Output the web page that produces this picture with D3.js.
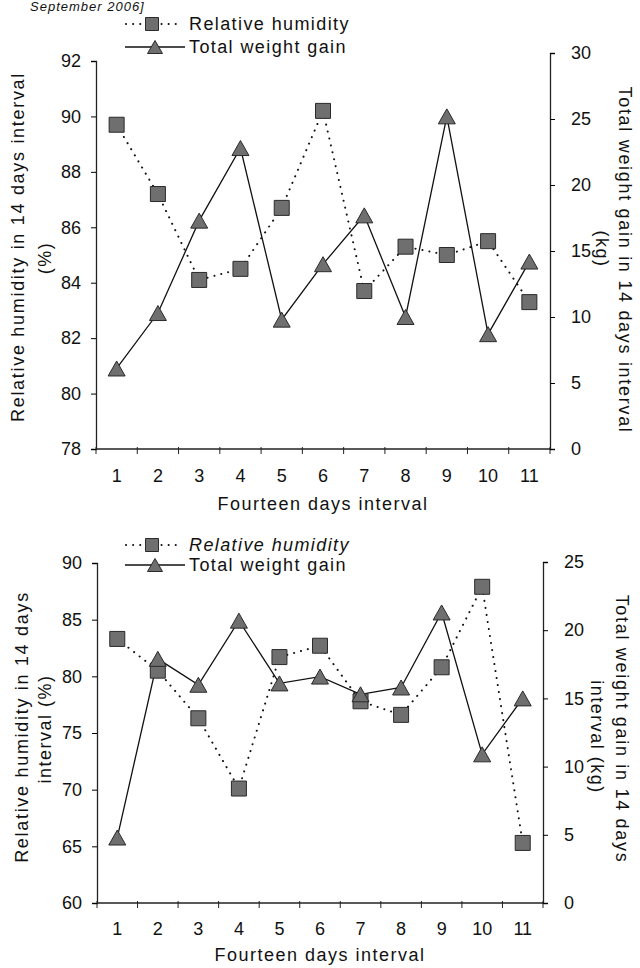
<!DOCTYPE html>
<html>
<head>
<meta charset="utf-8">
<script src="https://cdn.jsdelivr.net/npm/d3@7"></script>
<style>
  body { margin: 0; background: #fff; }
  svg { display: block; font-family: "Liberation Sans", Arial, sans-serif; }
  text { fill: #111; }
</style>
</head>
<body>
<div id="chart"></div>
<script>
// intervals on the x axis
const intervals = ["1", "2", "3", "4", "5", "6", "7", "8", "9", "10", "11"];

// upper chart
const rhTop = [89.7, 87.2, 84.1, 84.5, 86.7, 90.2, 83.7, 85.3, 85.0, 85.5, 83.3];
const wgTop = [6.1, 10.3, 17.3, 22.8, 9.8, 14.0, 17.7, 10.0, 25.2, 8.7, 14.2];
const rhTicksTop = [78, 80, 82, 84, 86, 88, 90, 92];
const wgTicksTop = [0, 5, 10, 15, 20, 25, 30];

// lower chart
const rhBottom = [83.3, 80.5, 76.3, 70.1, 81.7, 82.7, 77.8, 76.6, 80.8, 87.9, 65.3];
const wgBottom = [4.8, 17.9, 16.0, 20.7, 16.1, 16.6, 15.3, 15.8, 21.3, 10.9, 15.0];
const rhTicksBottom = [60, 65, 70, 75, 80, 85, 90];
const wgTicksBottom = [0, 5, 10, 15, 20, 25];

const legendLabels = ["Relative humidity", "Total weight gain"];
const xTitle = "Fourteen days interval";

const width = 640;
const height = 968;

const svg = d3.select("#chart")
  .append("svg")
  .attr("width", width)
  .attr("height", height);

// page header left over from the scan
svg.append("text")
  .attr("x", 30)
  .attr("y", 11)
  .attr("font-size", 13)
  .attr("font-style", "italic")
  .attr("letter-spacing", 1)
  .text("September 2006]");

const markerFill = "#6f6f6f";
const markerStroke = "#2a2a2a";

const squarePath = s => `M${-s / 2},${-s / 2}h${s}v${s}h${-s}Z`;
const trianglePath = (w, h) => `M0,${-h / 2}L${w / 2},${h / 2}L${-w / 2},${h / 2}Z`;

const drawChart = (c) => {
  const g = svg.append("g");

  const x = d3.scaleBand()
    .domain(intervals)
    .range([c.left, c.right]);

  const yL = d3.scaleLinear()
    .domain(d3.extent(c.rhTicks))
    .range([c.bottom, c.topL]);

  const yR = d3.scaleLinear()
    .domain(d3.extent(c.wgTicks))
    .range([c.bottom, c.topR]);

  // x axis with ticks between the categories
  const xAxis = g.append("g")
    .attr("transform", `translate(0,${c.bottom})`)
    .call(d3.axisBottom(x).tickSize(0).tickPadding(c.xLabelPad));
  xAxis.select(".domain").remove();
  xAxis.selectAll("text")
    .attr("font-size", 18)
    .attr("font-family", "Liberation Sans, Arial, sans-serif")
    .attr("fill", "#111");

  g.append("line")
    .attr("x1", c.left).attr("x2", c.right)
    .attr("y1", c.bottom).attr("y2", c.bottom)
    .attr("stroke", "#222").attr("stroke-width", 1.4);

  g.selectAll(".xtick")
    .data(d3.range(intervals.length + 1))
    .join("line")
    .attr("x1", i => c.left + i * x.step())
    .attr("x2", i => c.left + i * x.step())
    .attr("y1", c.bottom - 2)
    .attr("y2", c.bottom + 5)
    .attr("stroke", "#222");

  // left axis
  const left = g.append("g")
    .attr("transform", `translate(${c.left},0)`)
    .call(d3.axisLeft(yL).tickValues(c.rhTicks).tickSize(5).tickPadding(10));
  left.select(".domain").attr("stroke", "#222").attr("stroke-width", 1.3);
  left.selectAll("text")
    .attr("font-size", 18)
    .attr("font-family", "Liberation Sans, Arial, sans-serif")
    .attr("fill", "#111");

  // right axis
  const right = g.append("g")
    .attr("transform", `translate(${c.right},0)`)
    .call(d3.axisRight(yR).tickValues(c.wgTicks).tickSize(5).tickPadding(16));
  right.select(".domain").attr("stroke", "#222").attr("stroke-width", 1.3);
  right.selectAll("text")
    .attr("font-size", 18)
    .attr("font-family", "Liberation Sans, Arial, sans-serif")
    .attr("fill", "#111");

  const cx = (d, i) => x(intervals[i]) + x.bandwidth() / 2;

  // relative humidity, dotted
  g.append("path")
    .datum(c.rh)
    .attr("fill", "none")
    .attr("stroke", "#111")
    .attr("stroke-width", 2)
    .attr("stroke-linecap", "round")
    .attr("stroke-dasharray", "0.1 7")
    .attr("d", d3.line().x(cx).y(d => yL(d)));

  // total weight gain, solid
  g.append("path")
    .datum(c.wg)
    .attr("fill", "none")
    .attr("stroke", "#111")
    .attr("stroke-width", 1.3)
    .attr("d", d3.line().x(cx).y(d => yR(d)));

  g.selectAll(".sq")
    .data(c.rh)
    .join("path")
    .attr("transform", (d, i) => `translate(${cx(d, i)},${yL(d)})`)
    .attr("d", squarePath(15))
    .attr("fill", markerFill)
    .attr("stroke", markerStroke);

  g.selectAll(".tri")
    .data(c.wg)
    .join("path")
    .attr("transform", (d, i) => `translate(${cx(d, i)},${yR(d)})`)
    .attr("d", trianglePath(17, 15))
    .attr("fill", markerFill)
    .attr("stroke", markerStroke);

  // legend
  const lg = g.append("g");
  lg.append("line")
    .attr("x1", 126).attr("x2", 182)
    .attr("y1", c.legY1).attr("y2", c.legY1)
    .attr("stroke", "#111").attr("stroke-width", 2)
    .attr("stroke-linecap", "round").attr("stroke-dasharray", "0.1 7");
  lg.append("path")
    .attr("transform", `translate(152,${c.legY1})`)
    .attr("d", squarePath(13))
    .attr("fill", markerFill).attr("stroke", markerStroke);
  lg.append("line")
    .attr("x1", 125).attr("x2", 185)
    .attr("y1", c.legY2).attr("y2", c.legY2)
    .attr("stroke", "#111").attr("stroke-width", 1.3);
  lg.append("path")
    .attr("transform", `translate(155,${c.legY2})`)
    .attr("d", trianglePath(15, 13))
    .attr("fill", markerFill).attr("stroke", markerStroke);
  lg.selectAll("text")
    .data(legendLabels)
    .join("text")
    .attr("x", 189)
    .attr("y", (d, i) => i === 0 ? c.legY1 : c.legY2)
    .attr("dy", "0.35em")
    .attr("font-size", 18)
    .attr("letter-spacing", 1.4)
    .attr("font-style", (d, i) => c.italicFirst && i === 0 ? "italic" : null)
    .text(d => d);

  // x title
  g.append("text")
    .attr("x", (c.left + c.right) / 2)
    .attr("y", c.xTitleY)
    .attr("text-anchor", "middle")
    .attr("dy", "0.35em")
    .attr("font-size", 18)
    .attr("letter-spacing", 1.5)
    .text(xTitle);

  // rotated titles
  c.titles.forEach(t => {
    g.append("text")
      .attr("transform", `translate(${t.x},${t.y}) rotate(${t.rot})`)
      .attr("text-anchor", "middle")
      .attr("dy", "0.35em")
      .attr("font-size", 18)
      .attr("letter-spacing", t.ls)
      .text(t.text);
  });
};

drawChart({
  left: 96, right: 550, bottom: 449, topL: 61, topR: 53,
  rh: rhTop, wg: wgTop, rhTicks: rhTicksTop, wgTicks: wgTicksTop,
  xLabelPad: 20, xTitleY: 504,
  legY1: 24, legY2: 47, italicFirst: false,
  titles: [
    { text: "Relative humidity in 14 days interval", x: 18, y: 247, rot: -90, ls: 1.7 },
    { text: "(%)", x: 45, y: 258, rot: -90, ls: 1.5 },
    { text: "Total weight gain in 14 days interval", x: 625, y: 260, rot: 90, ls: 1.7 },
    { text: "(kg)", x: 602, y: 249, rot: 90, ls: 1.5 }
  ]
});

drawChart({
  left: 97, right: 543, bottom: 903, topL: 563, topR: 562,
  rh: rhBottom, wg: wgBottom, rhTicks: rhTicksBottom, wgTicks: wgTicksBottom,
  xLabelPad: 19, xTitleY: 955,
  legY1: 545, legY2: 565, italicFirst: true,
  titles: [
    { text: "Relative humidity in 14 days", x: 22, y: 727, rot: -90, ls: 1.7 },
    { text: "interval (%)", x: 45, y: 729, rot: -90, ls: 1.5 },
    { text: "Total weight gain in 14 days", x: 622, y: 729, rot: 90, ls: 1.7 },
    { text: "interval (kg)", x: 597, y: 737, rot: 90, ls: 1.5 }
  ]
});
</script>
</body>
</html>
